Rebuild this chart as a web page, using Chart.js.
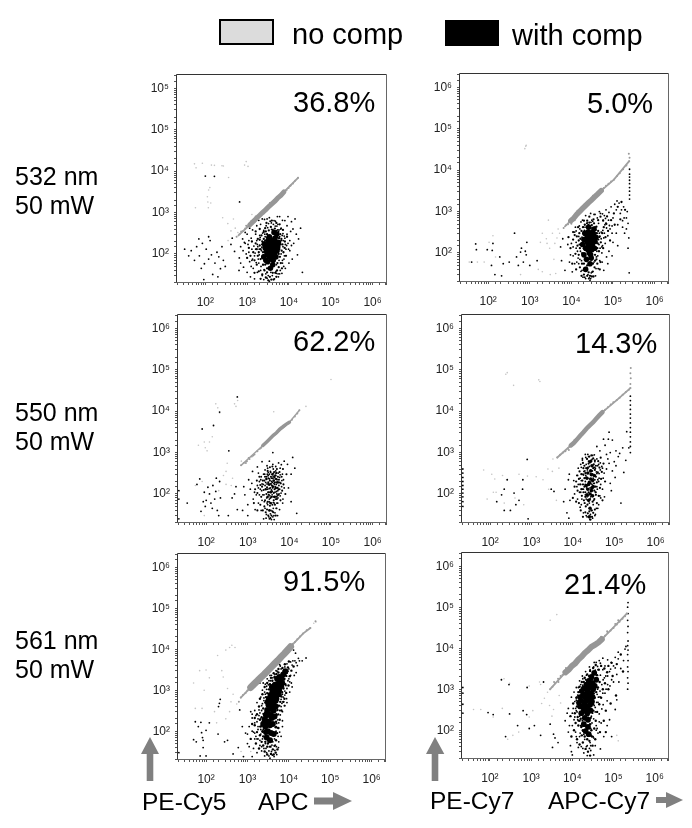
<!DOCTYPE html>
<html><head><meta charset="utf-8">
<script src="https://cdn.jsdelivr.net/npm/chart.js@4"></script>
<style>
html,body{margin:0;padding:0;background:#fff;}
body{position:relative;width:692px;height:828px;overflow:hidden;font-family:"Liberation Sans",Arial,sans-serif;color:#000;}
canvas{position:absolute;}
.t{position:absolute;white-space:nowrap;line-height:1;}
svg{position:absolute;left:0;top:0;}
</style></head><body>
<svg width="692" height="828" fill="#808080">
<rect x="220" y="20" width="53" height="24" fill="#dcdcdc" stroke="#000" stroke-width="2"/>
<rect x="445" y="20" width="54" height="26" fill="#000"/>
<polygon points="150,737 159,754 153.3,754 153.3,781 146.7,781 146.7,754 141,754"/>
<polygon points="352,801 333,792 333,797.5 314,797.5 314,804.5 333,804.5 333,810"/>
<polygon points="435,737 444.3,754 438.3,754 438.3,781 431.7,781 431.7,754 426,754"/>
<polygon points="683,800 666,792 666,797 656,797 656,803 666,803 666,808"/>
</svg>
<script>
// ---------- legend, annotations and tick labels ----------
const seriesNames = ['no comp', 'with comp'];
const panelTitles = ['36.8%', '5.0%', '62.2%', '14.3%', '91.5%', '21.4%'];
const rowLabels = [['532 nm', '50 mW'], ['550 nm', '50 mW'], ['561 nm', '50 mW']];
const axisLabels = ['PE-Cy5', 'APC', 'PE-Cy7', 'APC-Cy7'];
const xTickLabels = ['10²', '10³', '10⁴', '10⁵', '10⁶'];
const yTickLabels = ['10²', '10³', '10⁴', '10⁵', '10⁶'];
const yTickLabelsFirst = ['10²', '10³', '10⁴', '10⁵', '10⁵'];

// ---------- values: [x, y] ----------
const p1Taper = [[620,280],[1150,500],[3300,1400],[7600,3150],[16500,6900]];
const p1Band = [[1150,500],[1400,610],[1700,740],[2000,860],[2400,1030],[2800,1180],[3300,1400],[3900,1620],[4600,1880],[5400,2250],[6400,2600],[7600,3150]];
const p1Thin = [[560,260],[660,300],[720,350],[800,360],[900,410],[1000,460],[950,480],[1250,620],[8800,3500],[9800,3900],[11000,4500],[12500,5000],[14000,5900],[16500,6900],[10500,4400],[1500,600],[1600,800],[2500,950],[3500,1700],[5000,1850],[6000,2700]];
const p1Core = [[3500,110],[4200,130],[3000,95],[4800,160],[3800,75],[2700,140],[4400,90],[3300,180],[5200,120],[3900,210],[2500,85],[4600,240],[3600,145],[3100,65],[5600,190],[4100,55],[2900,115],[4900,85],[3400,260],[4300,170],[5100,300],[3700,100],[2600,175],[4500,120],[3200,135],[4000,150],[3800,190],[4700,200],[3400,85],[4200,70],[3000,160],[5400,150],[3600,45],[4400,330],[2800,70],[3900,125],[4100,100],[3500,160],[4600,105],[3200,215]];
const p1Mid = [[1900,110],[2100,75],[2300,200],[2000,160],[2400,55],[2200,280],[1700,130],[1500,70],[1600,180],[1800,230],[2500,340],[2700,420],[3000,300],[3300,370],[3700,450],[4100,380],[4600,410],[5000,360],[5600,340],[6200,300],[6600,230],[7000,170],[7400,110],[6700,120],[6100,85],[6400,60],[5700,48],[5200,40],[4700,35],[4100,35],[3500,28],[3000,36],[2600,40],[2300,32],[5900,130],[6300,170],[5800,240],[2000,220],[2400,110],[1400,110],[1300,200],[1200,90],[1700,55],[1900,38],[3000,45],[2700,55],[2500,150],[2800,350],[7900,140],[8500,90],[8000,200],[9000,260],[7200,380],[6000,520],[5000,560],[3900,640],[2900,560],[2000,400],[1600,350],[1100,140],[1000,80],[5300,60],[6800,45],[5000,28],[4300,24],[3800,24],[3200,23],[2800,27],[2100,25],[1500,35],[1800,90],[2100,130],[2300,80],[5700,100],[6000,200],[5300,250],[4900,300],[3000,250],[2700,210],[2500,230]];
const p1More = [[1450,155],[1550,105],[1650,62],[1750,170],[1850,75],[1950,130],[2050,250],[2150,50],[2250,145],[2350,320],[2450,95],[2550,42],[2650,300],[2750,160],[2850,480],[3000,700],[3250,540],[3550,620],[3850,390],[4250,520],[4550,300],[4750,620],[5150,470],[5450,520],[5800,380],[6400,400],[6900,280],[7300,210],[7700,270],[8200,170],[8800,160],[9800,130],[10500,210],[11500,160],[6500,100],[7000,70],[7500,50],[6000,33],[5500,33],[4900,38],[3200,30],[2800,33],[1250,50],[1100,210],[1000,300],[1150,420],[1400,560],[1900,650],[2300,700],[5300,800],[7000,650],[9500,800],[12500,400],[15000,300],[13000,180],[17000,230],[800,120],[900,180],[700,60],[1300,70]];
const p1Dots = [[1300,130],[1500,90],[1700,210],[1900,60],[1150,65],[2100,40],[2300,30],[1800,150],[1600,300],[2000,280],[1400,45],[1250,240],[2200,120],[1050,170],[950,100],[1200,28],[2500,24],[3000,26],[3400,22],[4000,30],[4500,25],[5000,34],[5600,28],[6200,40],[7000,60],[7800,90],[8500,130],[9500,180],[8000,240],[7200,310],[6500,420],[9000,480],[11000,350],[10500,120],[12000,75],[8200,45],[6800,34],[5800,70],[7200,150],[6600,210],[6000,260],[5400,380],[4700,470],[3800,560],[3100,430],[2500,370],[2100,520],[1700,480],[1350,380],[3400,750],[2600,680],[4400,640],[6000,800],[8000,640],[11500,600],[14000,700],[19000,420],[16000,95],[21000,36],[900,330],[780,230],[700,150],[650,80],[820,48],[1000,36],[1500,25],[3700,36],[2400,55],[2700,260],[5000,55],[7600,75],[10000,60],[9000,300],[1600,130],[1950,95],[2250,170],[1350,75],[1100,110],[860,190],[1750,36],[46,120],[55,70],[62,150],[72,90],[80,45],[85,180],[95,58],[105,130],[120,75],[130,210],[140,95],[150,32],[170,60],[190,110],[210,85],[230,44],[250,150],[270,70],[40,90],[32,130],[120,260],[70,230],[300,50],[410,170],[500,115],[440,240],[640,40],[92,24],[200,28],[100,7600],[165,7500],[660,1800]];
const p1Faint = [[55,15000],[60,12000],[85,15500],[140,14000],[165,13800],[250,13500],[270,13300],[360,7000],[870,14000],[950,17000],[1050,13000],[120,3500],[128,4000],[112,2400],[115,1800],[118,1300],[135,1700],[58,1300],[260,750],[345,540],[410,360],[470,700],[520,420],[600,330],[350,210],[1300,900]];

const p2Taper = [[7000,440],[9700,600],[26000,1650],[52000,3200],[105000,5900],[245000,16500]];
const p2Band = [[9700,600],[11500,700],[13500,860],[16000,1020],[18500,1180],[22000,1400],[26000,1650],[30000,1880],[36000,2250],[43000,2650],[52000,3200]];
const p2Thin = [[6500,400],[7500,470],[8300,490],[8800,580],[10000,510],[60000,3700],[68000,4200],[78000,4700],[90000,5300],[105000,5900],[125000,7200],[145000,8400],[175000,10500],[210000,13000],[245000,16500],[250000,20000],[240000,25000],[14000,1050],[20000,1450],[25000,1500],[33000,2400],[12000,620]];
const p2Core = [[26000,170],[30000,220],[22000,130],[34000,280],[27000,100],[20000,210],[32000,150],[25000,320],[37000,190],[29000,90],[18500,160],[35000,380],[26000,420],[23000,70],[31000,120],[28000,260],[21000,300],[39000,240],[24000,190],[30000,75],[27000,145],[33000,210],[25000,120],[29000,180],[20000,90],[36000,130],[24000,250],[28000,55],[32000,320],[22000,40],[27000,210],[25000,155]];
const p2Mid = [[15000,90],[16500,220],[14000,150],[17500,340],[15500,300],[13500,250],[18000,55],[16000,45],[19000,420],[21000,480],[24000,600],[27000,540],[31000,470],[35000,520],[40000,430],[44000,340],[48000,250],[43000,170],[46000,110],[40000,70],[36000,45],[32000,35],[28000,28],[26000,34],[24000,28],[20000,30],[17500,28],[42000,55],[51000,180],[55000,300],[60000,420],[68000,520],[76000,340],[58000,600],[50000,750],[44000,620],[90000,620],[72000,760],[105000,900],[130000,1300],[110000,480],[85000,200],[66000,240],[58000,130],[12500,95],[11000,210],[10500,55],[13000,40],[20000,55],[16000,130],[18500,95],[15000,200],[21000,170],[37000,90],[42000,130],[41000,300],[23000,240],[29000,400],[38000,300],[17000,160],[12000,270],[14500,420],[20000,600],[27000,750],[34000,650],[24000,50],[33000,55],[37000,65],[50000,60],[48000,40],[31000,27],[34000,27],[9500,130],[8500,240],[11000,320],[160000,1700],[195000,1100],[150000,650]];
const p2More = [[13000,130],[14500,75],[15500,160],[16500,110],[17500,65],[18000,240],[19000,85],[19500,130],[20500,350],[22500,420],[23500,520],[25500,480],[29500,550],[32500,580],[36500,420],[38500,360],[42000,220],[45000,210],[47000,300],[49000,130],[52000,220],[54000,140],[57000,350],[62000,300],[64000,480],[70000,400],[82000,460],[95000,450],[78000,620],[66000,680],[56000,880],[47000,1000],[68000,1100],[90000,1300],[110000,1500],[125000,1800],[160000,1100],[185000,700],[170000,420],[120000,300],[100000,180],[80000,110],[70000,80],[55000,60],[43000,85],[39000,42],[30000,33],[26000,24],[21000,26],[18000,38],[15000,55],[12000,55],[11000,85],[10000,170],[13000,340],[16000,380],[18500,620],[22000,800],[29000,900],[35000,850]];
const p2Dots = [[250000,2500],[250000,3100],[250000,3800],[250000,4700],[250000,5700],[250000,6800],[250000,8000],[250000,10500],[250000,2000],[15000,250],[13000,180],[14000,110],[16000,70],[12000,320],[11000,140],[13500,60],[15500,450],[12500,420],[17000,36],[19000,26],[22000,24],[25000,30],[28000,22],[27000,25],[29000,24],[33000,36],[38000,28],[44000,42],[48000,65],[54000,100],[46000,160],[60000,230],[52000,320],[65000,170],[75000,260],[85000,380],[95000,300],[70000,500],[58000,620],[45000,520],[42000,700],[37000,850],[50000,900],[62000,800],[80000,950],[100000,700],[120000,1100],[150000,900],[180000,1300],[140000,1600],[220000,1000],[230000,520],[210000,380],[170000,600],[130000,480],[210000,700],[190000,300],[240000,230],[230000,130],[245000,33],[130000,150],[95000,85],[75000,55],[60000,38],[40000,80],[47000,240],[56000,150],[38000,420],[31000,620],[24000,530],[20000,420],[17000,560],[9500,90],[8200,160],[7000,38],[5800,65],[6200,220],[10500,35],[9000,60],[18000,100],[41000,110],[35000,60],[23000,45],[5500,140],[50,165],[52,120],[40,60],[120,50],[125,115],[130,170],[95,120],[145,30],[190,80],[230,55],[320,60],[210,28],[430,300],[480,80],[530,50],[600,105],[630,130],[700,60],[780,110],[850,180],[820,90],[1000,50],[1500,65]];
const p2Faint = [[800,38000],[760,33000],[820,40000],[2800,620],[2000,300],[2500,220],[3000,130],[1800,180],[3500,300],[4000,170],[4500,230],[4800,380],[5200,300],[3800,70],[2600,170],[35,60],[55,60],[80,60],[130,260],[105,180],[150,80],[4200,32],[3100,30],[2000,35],[1600,40],[600,30]];

const p3Taper = [[690,490],[2300,1480],[10000,5400],[17400,10500]];
const p3Band = [[2300,1480],[2800,1780],[3400,2150],[4100,2600],[4900,3000],[5900,3700],[7000,4200],[8300,4800],[10000,5400]];
const p3Thin = [[690,490],[800,560],[950,620],[1100,700],[1250,800],[1450,900],[1700,1080],[1950,1230],[11500,6200],[13500,7400],[15500,8800],[17400,10500],[1050,740],[900,560],[1350,850],[2100,1300]];
const p3Core = [[3200,170],[4200,210],[3600,110],[4700,140],[3000,85],[3900,300],[2800,230],[4400,85],[3500,60],[5100,190],[2700,130],[4000,150],[3300,40],[4600,280]];
const p3Mid = [[2500,210],[3400,210],[3100,280],[4500,190],[3800,160],[4400,130],[3200,110],[5200,140],[2800,100],[3700,85],[4800,85],[4200,70],[3500,80],[3000,65],[2600,70],[3900,55],[2900,42],[3400,52],[4500,55],[5000,75],[2400,125],[2200,150],[5600,220],[5800,130],[5300,260],[4900,320],[4300,340],[3600,260],[3000,360],[2600,260],[2300,210],[2100,85],[2000,165],[3700,30],[3100,30],[4100,36],[3500,26],[2700,36],[5400,95],[6200,180],[6700,120],[6100,70],[4000,240],[4700,230],[3300,135],[4200,105],[2900,145],[3600,175],[5000,400],[5800,340],[3400,440],[3900,460],[6500,260],[7200,170],[8000,100],[8500,300],[7000,400],[2000,55],[1700,105],[1500,130],[1400,60],[1700,40],[1900,260],[1650,210],[2300,40],[4700,30],[3900,38],[3200,95],[4400,250],[5500,190],[2500,50],[3100,190],[3700,125],[4900,115]];
const p3More = [[2350,170],[2450,95],[2550,300],[2700,190],[2850,80],[2950,300],[3050,110],[3150,240],[3250,65],[3350,165],[3450,110],[3550,330],[3650,60],[3750,200],[3850,95],[3950,140],[4050,270],[4150,85],[4250,180],[4350,60],[4550,150],[4650,75],[4750,320],[4850,170],[4950,45],[5050,220],[5150,90],[5250,60],[5450,130],[5650,100],[5900,190],[6000,290],[6300,105],[6600,210],[6900,60],[7500,140],[1900,95],[2050,220],[2150,120],[2200,70],[1800,140],[3600,40],[2750,26],[3200,28],[4250,30],[5200,30],[2850,260],[3300,300],[4150,320]];
const p3Dots = [[2400,300],[2600,380],[3000,420],[3500,350],[4100,400],[4700,360],[5400,320],[6000,420],[6800,300],[7200,220],[5800,250],[6500,150],[5300,120],[6000,90],[7000,75],[5000,60],[5800,42],[4500,35],[4000,28],[3300,25],[2800,32],[3000,55],[2500,65],[2300,95],[2000,130],[1900,200],[2100,260],[1800,320],[1700,160],[1600,95],[1800,60],[2100,40],[2400,25],[2600,45],[3700,24],[4300,24],[4800,45],[3300,75],[3800,85],[4100,62],[3500,140],[3000,130],[4500,110],[3900,190],[3300,230],[4300,260],[4900,230],[5600,160],[3100,330],[3700,240],[2900,175],[3400,90],[3900,115],[4400,170],[5000,100],[2600,160],[2200,175],[2900,60],[4100,45],[3500,33],[5300,80],[2900,480],[3300,620],[4000,520],[4700,460],[5500,560],[6400,510],[7500,620],[9000,520],[12000,760],[11000,300],[13500,420],[9500,140],[11000,65],[15000,34],[1300,350],[1050,220],[1150,130],[1350,75],[1500,42],[1000,55],[850,95],[800,150],[1450,110],[1250,180],[1000,30],[750,40],[4000,1000],[1700,450],[2200,600],[130,60],[100,70],[120,100],[95,50],[85,65],[75,38],[110,145],[140,45],[160,75],[170,115],[145,160],[90,110],[185,40],[200,30],[210,200],[220,80],[175,240],[60,170],[35,60],[70,230],[340,30],[480,100],[520,150],[420,80],[560,42],[22,25],[22,75],[22,120],[350,1100],[210,9500],[560,22000],[150,4500],[80,3700]];
const p3Faint = [[170,15000],[190,12000],[210,9000],[480,15000],[520,13000],[570,18000],[100000,58000],[120,1800],[65,1500],[95,1300],[105,1100],[90,1800],[140,2400],[4200,9700],[25000,13000],[700,620],[300,350],[260,280],[400,160],[200,120],[90,30],[80,200],[55,160],[320,550],[430,240],[300,170]];

const p4Taper = [[4200,760],[8900,1480],[26000,4600],[52000,9500],[115000,18500],[245000,36000]];
const p4Band = [[8900,1480],[10500,1700],[12500,2050],[15000,2550],[18000,3100],[21500,3800],[26000,4600],[31000,5400],[37000,6600],[44000,8000],[52000,9500]];
const p4Thin = [[4200,760],[4900,880],[5800,1000],[6600,1080],[7600,1260],[60000,10800],[70000,12500],[82000,14500],[95000,16500],[115000,18500],[135000,21000],[160000,25000],[190000,29000],[225000,33000],[245000,36000],[245000,45000],[250000,62000],[245000,82000],[250000,110000],[8000,1150],[11000,2000],[17000,2700],[23000,4400],[40000,6800]];
const p4Core = [[25000,190],[28000,290],[23000,130],[30000,210],[26000,100],[22000,240],[31000,150],[27000,360],[24000,70],[29000,480],[26000,45],[21000,160],[33000,280],[25000,28],[28000,120],[24000,170],[27000,230],[23000,320],[30000,90],[22000,95],[26000,600],[29000,140]];
const p4Mid = [[17000,210],[19000,150],[18000,290],[20000,110],[16000,130],[15000,170],[16500,90],[18500,70],[20500,50],[22500,55],[25000,38],[28000,40],[31000,35],[30000,65],[33000,75],[36000,95],[35000,150],[38000,190],[36000,260],[40000,330],[34000,380],[36000,480],[32000,520],[28000,620],[24000,540],[21000,420],[19000,480],[22000,700],[25000,800],[28000,850],[31000,720],[34000,650],[20000,320],[18000,420],[17500,560],[16000,300],[14000,230],[14500,350],[13000,120],[14000,60],[15500,40],[17500,28],[20000,36],[23000,34],[26000,24],[29000,28],[42000,90],[45000,140],[48000,230],[50000,340],[44000,430],[41000,620],[47000,750],[55000,540],[60000,200],[52000,70],[38000,60],[34000,42],[30000,300],[23000,430],[21000,250],[27000,180],[24000,110],[20000,85],[18000,110],[12000,200],[11000,150],[12000,65],[10000,80],[22000,160],[31000,420],[26000,75],[33000,120],[27000,300],[19000,240]];
const p4More = [[15500,110],[16000,210],[17000,130],[18000,170],[18500,350],[19500,60],[20000,170],[20500,280],[21500,140],[21000,75],[22500,380],[23500,90],[24000,620],[25000,460],[26000,140],[27000,85],[29000,170],[29500,360],[31000,240],[32000,180],[33000,440],[34000,220],[35000,110],[37000,340],[39000,130],[40000,480],[42000,200],[43000,310],[46000,560],[52000,420],[54000,240],[47000,80],[40000,45],[35000,32],[26500,32],[21000,30],[16000,55],[13500,170],[12500,280],[13500,420],[15500,520],[17000,660],[20500,760],[23000,900],[29000,680],[33000,880],[65000,400],[75000,550],[85000,120],[100000,600],[125000,800],[65000,900],[45000,1100],[38000,1400],[60000,1500],[72000,2100]];
const p4Dots = [[245000,1000],[245000,1400],[245000,1800],[245000,2400],[245000,3100],[245000,4000],[245000,5200],[245000,6800],[245000,8500],[245000,11000],[245000,14000],[245000,18000],[245000,23000],[225000,1300],[200000,3200],[22,50],[22,65],[22,85],[22,105],[22,130],[22,160],[22,200],[22,250],[22,320],[22,400],[17000,720],[20000,900],[24000,800],[27000,650],[30000,850],[34000,600],[38000,700],[42000,520],[46000,380],[50000,460],[57000,320],[43000,240],[47000,170],[52000,130],[58000,85],[45000,90],[42000,55],[37000,45],[34000,30],[30000,26],[27000,24],[22000,28],[18000,35],[15000,48],[13000,75],[11000,100],[12500,150],[10500,210],[13000,280],[15000,240],[17000,170],[14500,110],[16500,75],[19000,60],[20000,95],[18000,130],[19500,360],[16000,440],[21000,520],[23000,420],[35000,420],[38000,310],[33000,180],[36000,110],[32000,70],[29000,40],[25000,60],[22000,85],[20000,200],[17500,300],[38000,150],[40000,220],[28000,95],[31000,55],[70000,700],[80000,1000],[110000,1100],[135000,950],[160000,1300],[90000,2000],[75000,3100],[55000,2100],[190000,650],[170000,330],[110000,480],[90000,360],[105000,250],[80000,180],[145000,60],[6500,130],[6000,65],[7200,35],[8500,70],[7800,220],[8000,26],[8200,300],[3000,130],[3500,115],[260,220],[220,130],[190,95],[145,65],[380,105],[500,70],[610,130],[790,680],[830,25],[220,40],[310,40],[420,55],[620,220]];
const p4Faint = [[260,85000],[240,78000],[1500,57000],[1600,52000],[370,42000],[70,380],[110,300],[130,230],[200,280],[85,75],[120,110],[140,110],[250,220],[400,80],[500,300],[800,270],[1300,260],[1900,220],[2500,400],[3200,350],[2600,130],[4000,70],[4600,420],[3300,700],[220,60],[650,55]];

const p5Taper = [[690,660],[1200,1170],[5400,5300],[11000,11500],[22000,24000],[33000,33000]];
const p5Band = [[1200,1170],[1450,1420],[1750,1700],[2100,2050],[2550,2450],[3100,3000],[3700,3600],[4500,4400],[5400,5300],[6500,6500],[7800,7800],[9300,9500],[11000,11500]];
const p5Thin = [[690,660],[780,760],[900,850],[1000,980],[1100,1120],[620,520],[12500,13500],[14000,15000],[16000,17500],[18500,20500],[22000,24000],[27000,29000],[33000,33000],[44000,48000],[10000,9300],[1500,1250]];
const p5Core = [[8200,2900],[7300,2400],[6600,1900],[6900,1500],[5900,1600],[5200,1900],[6100,1200],[5200,1400],[4500,1150],[5300,1000],[4700,860],[4000,950],[4300,680],[5000,620],[3600,760],[3500,560],[4200,480],[4800,400],[3200,440],[3700,360],[4300,320],[3000,330],[3400,250],[3900,210],[4500,230],[2800,240],[3000,175],[3500,140],[4100,150],[2700,130],[3100,100],[3700,90],[4300,85],[2900,70],[3500,60],[5900,2100],[6500,1300],[4600,1350],[3900,1200],[5700,800],[3300,620],[4800,550],[3000,280],[3900,430],[2600,190],[3700,250],[3300,165],[4000,340],[4500,780],[5100,1200],[5800,1000],[3100,520],[4200,620],[6200,1700],[2400,150],[2800,95]];
const p5Mid = [[9000,3000],[8500,2300],[9500,3600],[7800,1900],[8200,1400],[7400,1100],[6900,900],[6600,700],[6200,520],[5700,420],[5300,330],[5000,260],[4900,170],[4800,125],[2500,260],[2400,360],[2700,500],[2800,680],[3000,850],[3300,1050],[3500,1400],[4000,1700],[4500,2100],[5000,2500],[5600,2700],[2200,220],[2100,130],[2000,190],[2300,100],[2000,80],[2400,75],[2700,55],[3100,50],[3600,42],[4100,36],[4500,44],[4900,60],[5200,90],[5600,120],[6000,190],[6600,320],[7300,520],[2600,32],[3000,27],[3700,28],[4300,27],[4800,30],[5300,36],[2200,55],[1900,38],[1700,95],[1500,140],[1700,260],[1900,400],[2000,620],[2300,800],[2600,1200],[3000,1500],[7800,620],[8600,860],[9800,1300],[10500,2200],[11500,3000],[13000,3800],[7000,3500],[8000,4300],[10000,5000],[5600,3300],[4300,2600],[3700,2000],[1500,210],[1300,150],[1200,65],[1600,50],[3000,42],[2400,45]];
const p5More = [[2200,320],[2300,470],[2500,650],[2600,900],[2900,1250],[3300,1700],[3800,2300],[4900,3000],[6200,3900],[7500,3000],[9000,2600],[10000,1900],[9000,1100],[8000,760],[7300,680],[6800,480],[6500,400],[6000,320],[5600,260],[5400,190],[5100,155],[5300,120],[4900,100],[4500,65],[3900,58],[3300,55],[2700,85],[2400,110],[2100,110],[2300,170],[2000,280],[1800,200],[1800,130],[1600,75],[1400,95],[1700,65],[2000,60],[2200,42],[2800,38],[3300,33],[4000,26],[4600,34],[5000,42],[5700,55],[6500,75],[7000,180],[7800,420],[8800,620],[10500,900],[11500,1500],[13500,2300],[12500,5200],[15000,4700],[18000,5200],[15000,2700],[6000,4200],[2400,1500],[1500,320],[1300,260],[1000,85]];
const p5Dots = [[2900,30],[3300,25],[3800,32],[4400,24],[5100,27],[5600,40],[4700,46],[4100,55],[3400,42],[2700,50],[2300,65],[2000,45],[1700,30],[1500,65],[1100,42],[900,90],[1100,130],[1300,100],[1500,160],[1800,110],[1300,210],[1600,240],[1900,330],[2100,200],[2000,130],[2300,95],[2400,270],[2200,420],[2500,560],[2700,800],[2900,1050],[3200,1350],[3600,1700],[4100,2000],[4600,2400],[5200,2900],[6500,3300],[8000,3700],[9000,4400],[10000,3300],[12000,4100],[14000,5200],[17000,6000],[14500,8000],[21000,5200],[26000,6100],[11000,2300],[9500,1700],[8500,1300],[8000,950],[7000,800],[6500,600],[6000,420],[7000,300],[6200,250],[5700,160],[5000,130],[6000,95],[5500,75],[7000,130],[4800,95],[3900,46],[2500,38],[1300,24],[800,24],[1000,50],[750,130],[650,330],[1200,300],[1700,500],[2100,680],[2300,1000],[2700,1400],[3000,1900],[3500,2300],[8800,2200],[10500,1600],[12000,1200],[9500,2900],[7800,1800],[7400,1200],[11000,4900],[16000,4000],[13000,9500],[9000,500],[8000,420],[7500,520],[6300,720],[5400,250],[2000,1500],[1900,240],[1700,170],[2100,85],[2600,280],[3000,600],[1500,90],[1400,38],[1800,65],[2200,33],[2600,25],[3500,22],[22,30],[50,62],[55,170],[58,55],[65,130],[75,165],[78,92],[82,70],[85,60],[85,40],[72,25],[100,25],[100,105],[120,160],[200,400],[210,480],[220,600],[195,85],[280,55],[330,60],[450,28],[600,40]];
const p5Faint = [[190,7000],[370,11000],[420,12500],[500,11000],[300,9500],[100,3100],[70,3000],[120,2000],[240,3000],[260,2100],[330,1100],[400,520],[370,300],[450,800],[90,1000],[50,1500],[80,360],[55,360],[180,160],[160,300],[300,200],[550,460],[45000,46000],[40000,43000],[1200,32],[700,32]];

const p6Taper = [[2900,1000],[6800,2570],[20000,7600],[52000,16500],[210000,70000]];
const p6Band = [[6800,2570],[8200,3000],[9800,3700],[11800,4300],[14000,5300],[17000,6300],[20000,7600],[24000,8900],[29000,10800],[35000,12000],[43000,13800],[52000,16500]];
const p6Thin = [[2900,1000],[3300,1150],[3800,1400],[4500,1800],[5200,2100],[5800,2250],[4600,1500],[3600,1500],[62000,20000],[72000,24000],[85000,27000],[100000,31000],[120000,38000],[140000,44000],[165000,52000],[190000,60000],[210000,70000],[70000,26000],[110000,39000],[130000,48000],[7000,3300],[50000,19000]];
const p6Core = [[34000,2500],[29000,2000],[38000,1700],[25000,1600],[31000,1400],[22000,1300],[26000,1100],[32000,1000],[19000,1050],[23000,850],[28000,780],[18000,700],[21000,620],[26000,550],[31000,650],[16500,520],[20000,440],[24000,380],[15500,380],[19000,300],[23000,260],[16500,260],[20000,200],[24000,180],[27000,420],[30000,500],[17000,900],[24000,1000],[28000,1300],[22000,520],[14500,470],[21000,750],[25000,700],[35000,1200],[18000,370],[28000,300],[15500,640],[22000,330],[19000,140],[24000,120],[21000,95],[25000,80]];
const p6Mid = [[44000,3000],[40000,2200],[50000,3700],[46000,1500],[42000,1100],[38000,850],[35000,620],[32000,430],[30000,280],[28000,200],[27000,140],[29000,100],[13000,380],[12500,620],[14000,850],[15000,1150],[17000,1500],[20000,1900],[23000,2300],[27000,2800],[32000,3300],[37000,3900],[13500,210],[15000,170],[14000,130],[16500,120],[18000,100],[17000,75],[20000,70],[23000,60],[26000,55],[30000,70],[34000,110],[37000,170],[40000,280],[45000,430],[50000,620],[55000,1000],[62000,1400],[70000,2600],[60000,3200],[75000,3700],[90000,4400],[12000,150],[11500,260],[11000,100],[13000,60],[15000,45],[18000,50],[21000,35],[24000,30],[27000,24],[31000,42],[36000,60],[10500,450],[9000,220],[9500,70],[75000,1000],[95000,2100],[120000,4100],[150000,7000],[170000,2700],[115000,700],[85000,450],[65000,300],[58000,170],[47000,90],[65000,90],[20000,130],[24000,230],[30000,1700],[19000,1500],[16000,190],[28000,75],[33000,800]];
const p6More = [[41000,3600],[36000,2900],[31000,2500],[25000,2100],[21000,1700],[18000,1250],[15500,950],[13500,720],[11500,500],[12000,340],[13000,280],[14000,170],[15500,85],[19000,80],[22000,90],[25000,130],[29000,220],[33000,300],[36000,360],[39000,480],[43000,640],[47000,900],[52000,1300],[56000,1700],[65000,2100],[80000,2700],[100000,3700],[130000,5500],[150000,3200],[120000,2300],[90000,1700],[72000,1300],[62000,800],[70000,520],[52000,330],[45000,160],[38000,100],[33000,65],[28000,42],[23000,42],[18000,36],[14000,38],[12500,70],[11000,180],[10000,260],[8500,130],[8000,340],[9500,640],[11000,850],[12500,1100],[15000,1600],[17500,2100],[21000,2700],[26000,3500],[34000,4500],[48000,4300],[55000,5700],[40000,110]];
const p6Dots = [[220000,1000],[225000,1400],[220000,1900],[225000,2700],[220000,3500],[225000,5000],[220000,7000],[225000,9000],[220000,11500],[225000,15000],[220000,24000],[225000,34000],[220000,48000],[225000,70000],[220000,100000],[225000,130000],[190000,9500],[200000,11000],[175000,5000],[130000,8000],[110000,6000],[88000,4500],[72000,5200],[62000,3700],[55000,3000],[48000,2200],[60000,1900],[72000,2100],[85000,3100],[110000,3300],[135000,1500],[100000,1500],[82000,1200],[66000,1000],[55000,800],[47000,650],[42000,480],[56000,420],[45000,250],[36000,280],[33000,190],[38000,130],[42000,85],[32000,70],[27000,50],[22000,40],[19000,28],[23000,24],[28000,32],[36000,42],[48000,35],[58000,70],[50000,150],[70000,130],[90000,70],[80000,180],[110000,320],[120000,550],[9500,30],[9000,42],[10000,25],[13000,50],[15000,70],[12000,90],[10000,130],[11500,210],[13500,180],[12500,300],[10500,340],[12500,540],[13000,650],[15000,850],[16000,1300],[14000,1100],[18000,1800],[22000,2200],[27000,3000],[33000,3500],[42000,3000],[38000,4500],[45000,5000],[16000,130],[18000,95],[15000,220],[16500,40],[20000,60],[26000,190],[30000,150],[28000,110],[34000,400],[17500,170],[31000,260],[40000,750],[41000,1000],[26000,36],[33000,25],[4500,50],[3500,80],[3300,38],[2900,140],[1700,75],[1200,130],[900,110],[780,240],[640,300],[470,130],[300,250],[290,1300],[240,70],[190,1700],[2000,1500],[800,1100],[120,240],[90,270],[3800,65],[6700,170],[7500,260],[8000,90],[22,1100],[22,800],[22,430],[22,260]];
const p6Faint = [[4200,66000],[2900,48000],[220,1800],[300,1400],[1600,1500],[1700,1300],[900,1200],[2100,600],[2500,840],[1800,450],[1100,300],[900,210],[500,90],[360,75],[270,60],[60,320],[120,210],[200,340],[40,320],[2800,400],[3200,220],[130000,55],[120000,75],[4800,700],[5200,460],[3500,320]];

// ---------- axis range and tick values ----------
const axisMin = 21;
const axisMax = 2100000;
const decades = [100, 1000, 10000, 100000, 1000000];

const panelBoxes = [
  {l:177,t:75,r:386,b:282},{l:460,t:74,r:668,b:281},
  {l:178,t:315,r:386,b:522},{l:462,t:315,r:669,b:522},
  {l:178,t:554,r:385,b:759},{l:462,t:553,r:668,b:758}
];
const panelData = [
  {taper:p1Taper,band:p1Band,thin:p1Thin,core:p1Core,mid:p1Mid,more:p1More,dots:p1Dots,faint:p1Faint,yl:yTickLabelsFirst},
  {taper:p2Taper,band:p2Band,thin:p2Thin,core:p2Core,mid:p2Mid,more:p2More,dots:p2Dots,faint:p2Faint,yl:yTickLabels},
  {taper:p3Taper,band:p3Band,thin:p3Thin,core:p3Core,mid:p3Mid,more:p3More,dots:p3Dots,faint:p3Faint,yl:yTickLabels},
  {taper:p4Taper,band:p4Band,thin:p4Thin,core:p4Core,mid:p4Mid,more:p4More,dots:p4Dots,faint:p4Faint,yl:yTickLabels},
  {taper:p5Taper,band:p5Band,thin:p5Thin,core:p5Core,mid:p5Mid,more:p5More,dots:p5Dots,faint:p5Faint,yl:yTickLabels},
  {taper:p6Taper,band:p6Band,thin:p6Thin,core:p6Core,mid:p6Mid,more:p6More,dots:p6Dots,faint:p6Faint,yl:yTickLabels}
];
const titlePos = [[293,112],[587,113],[293,351],[575,353],[283,591],[564,594]];
const bandWidth = [5,5.5,3.5,4.5,7,6];
const coreRadius = [2.8,2.8,1.3,1.8,3,2.9];
const midRadius = [1.15,1.15,1.05,1.1,1.2,1.2];

function addText(txt, x, baseline, size){
  const d = document.createElement('div');
  d.className = 't';
  d.textContent = txt;
  d.style.left = x + 'px';
  d.style.fontSize = size + 'px';
  d.style.top = (baseline - size * 0.905 - (size - size*1.149)/2) + 'px';
  document.body.appendChild(d);
}
addText(seriesNames[0], 292, 44, 29);
addText(seriesNames[1], 512, 45, 29);
panelTitles.forEach((s,i)=>addText(s, titlePos[i][0], titlePos[i][1], 29));
const rowBase = [[185,214],[421,450],[649,678]];
rowLabels.forEach((r,i)=>{ addText(r[0],15,rowBase[i][0],25); addText(r[1],15,rowBase[i][1],25); });
addText(axisLabels[0],142,810,24.5);
addText(axisLabels[1],258,810,24.5);
addText(axisLabels[2],430,809,24.5);
addText(axisLabels[3],548,809,24.5);

// margins large enough that the scales' own label padding never moves the plot area
const PAD = {l:42,t:16,r:14,b:34};
const toPts = a => a.map(p => ({x:p[0], y:p[1]}));
const frame = {
  id:'frame',
  afterDatasetsDraw(c){
    const a = c.chartArea, g = c.ctx;
    g.save(); g.lineWidth = 1;
    g.strokeStyle = '#333';
    g.beginPath(); g.moveTo(a.left-.5,a.bottom+.5); g.lineTo(a.left-.5,a.top-.5); g.lineTo(a.right+.5,a.top-.5); g.stroke();
    g.strokeStyle = '#666';
    g.beginPath(); g.moveTo(a.right+.5,a.top-.5); g.lineTo(a.right+.5,a.bottom+.5); g.lineTo(a.left-.5,a.bottom+.5); g.stroke();
    g.restore();
  }
};
panelData.forEach((p,i)=>{
  const b = panelBoxes[i];
  const cv = document.createElement('canvas');
  const w = b.r-b.l+PAD.l+PAD.r, h = b.b-b.t+PAD.t+PAD.b;
  cv.width = w; cv.height = h;
  cv.style.left = (b.l-PAD.l)+'px'; cv.style.top = (b.t-PAD.t)+'px';
  cv.style.width = w+'px'; cv.style.height = h+'px';
  document.body.insertBefore(cv, document.body.querySelector('svg'));
  const ds = (label,data,color,r,order)=>({label,data:toPts(data),backgroundColor:color,borderWidth:0,pointRadius:r,pointHoverRadius:r,order,showLine:false});
  const line = (label,data,color,width,order)=>({label,data:toPts(data),borderColor:color,backgroundColor:color,borderWidth:width,borderCapStyle:'round',pointRadius:0,showLine:true,tension:0,order});
  const labelOf = (arr,v)=>{
    const k = decades.findIndex(d=>Math.abs(d-v)<1e-6*d);
    return k<0 ? '' : arr[k];
  };
  const scale = (pos,labels,extra)=>({
    type:'logarithmic',position:pos,min:axisMin,max:axisMax,
    border:{display:false},
    grid:{drawOnChartArea:false,drawTicks:true,tickLength:3,tickColor:'#555',tickWidth:1},
    ticks:Object.assign({autoSkip:false,maxRotation:0,minRotation:0,color:'#222',
      font:{family:'"Liberation Sans",Arial,sans-serif',size:12},
      callback:v=>labelOf(labels,v)},extra)
  });
  const x = scale('bottom',xTickLabels,{padding:10});
  x.afterFit = s=>{s.height=PAD.b;};
  const y = scale('left',p.yl,{padding:5});
  y.afterFit = s=>{s.width=PAD.l;};
  new Chart(cv,{
    type:'scatter',
    data:{datasets:[
      ds('faint',p.faint,'#c4c4c4',0.8,8),
      ds(seriesNames[1],p.dots,'#000',0.9,7),
      ds(seriesNames[1]+' outer',p.more,'#000',0.9,6),
      ds(seriesNames[1]+' mid',p.mid,'#000',midRadius[i],5),
      ds(seriesNames[1]+' core',p.core,'#000',coreRadius[i],4),
      ds(seriesNames[0]+' edge',p.thin,'#999',1,3),
      line(seriesNames[0]+' taper',p.taper,'#a0a0a0',i===2?1.4:1.8,2),
      line(seriesNames[0],p.band,'#969696',bandWidth[i],1)
    ]},
    options:{
      responsive:false,animation:false,events:[],
      layout:{autoPadding:false,padding:{top:PAD.t,right:PAD.r,left:0,bottom:0}},
      plugins:{legend:{display:false},tooltip:{enabled:false},title:{display:false}},
      scales:{x,y}
    },
    plugins:[frame]
  });
});
</script>
</body></html>
